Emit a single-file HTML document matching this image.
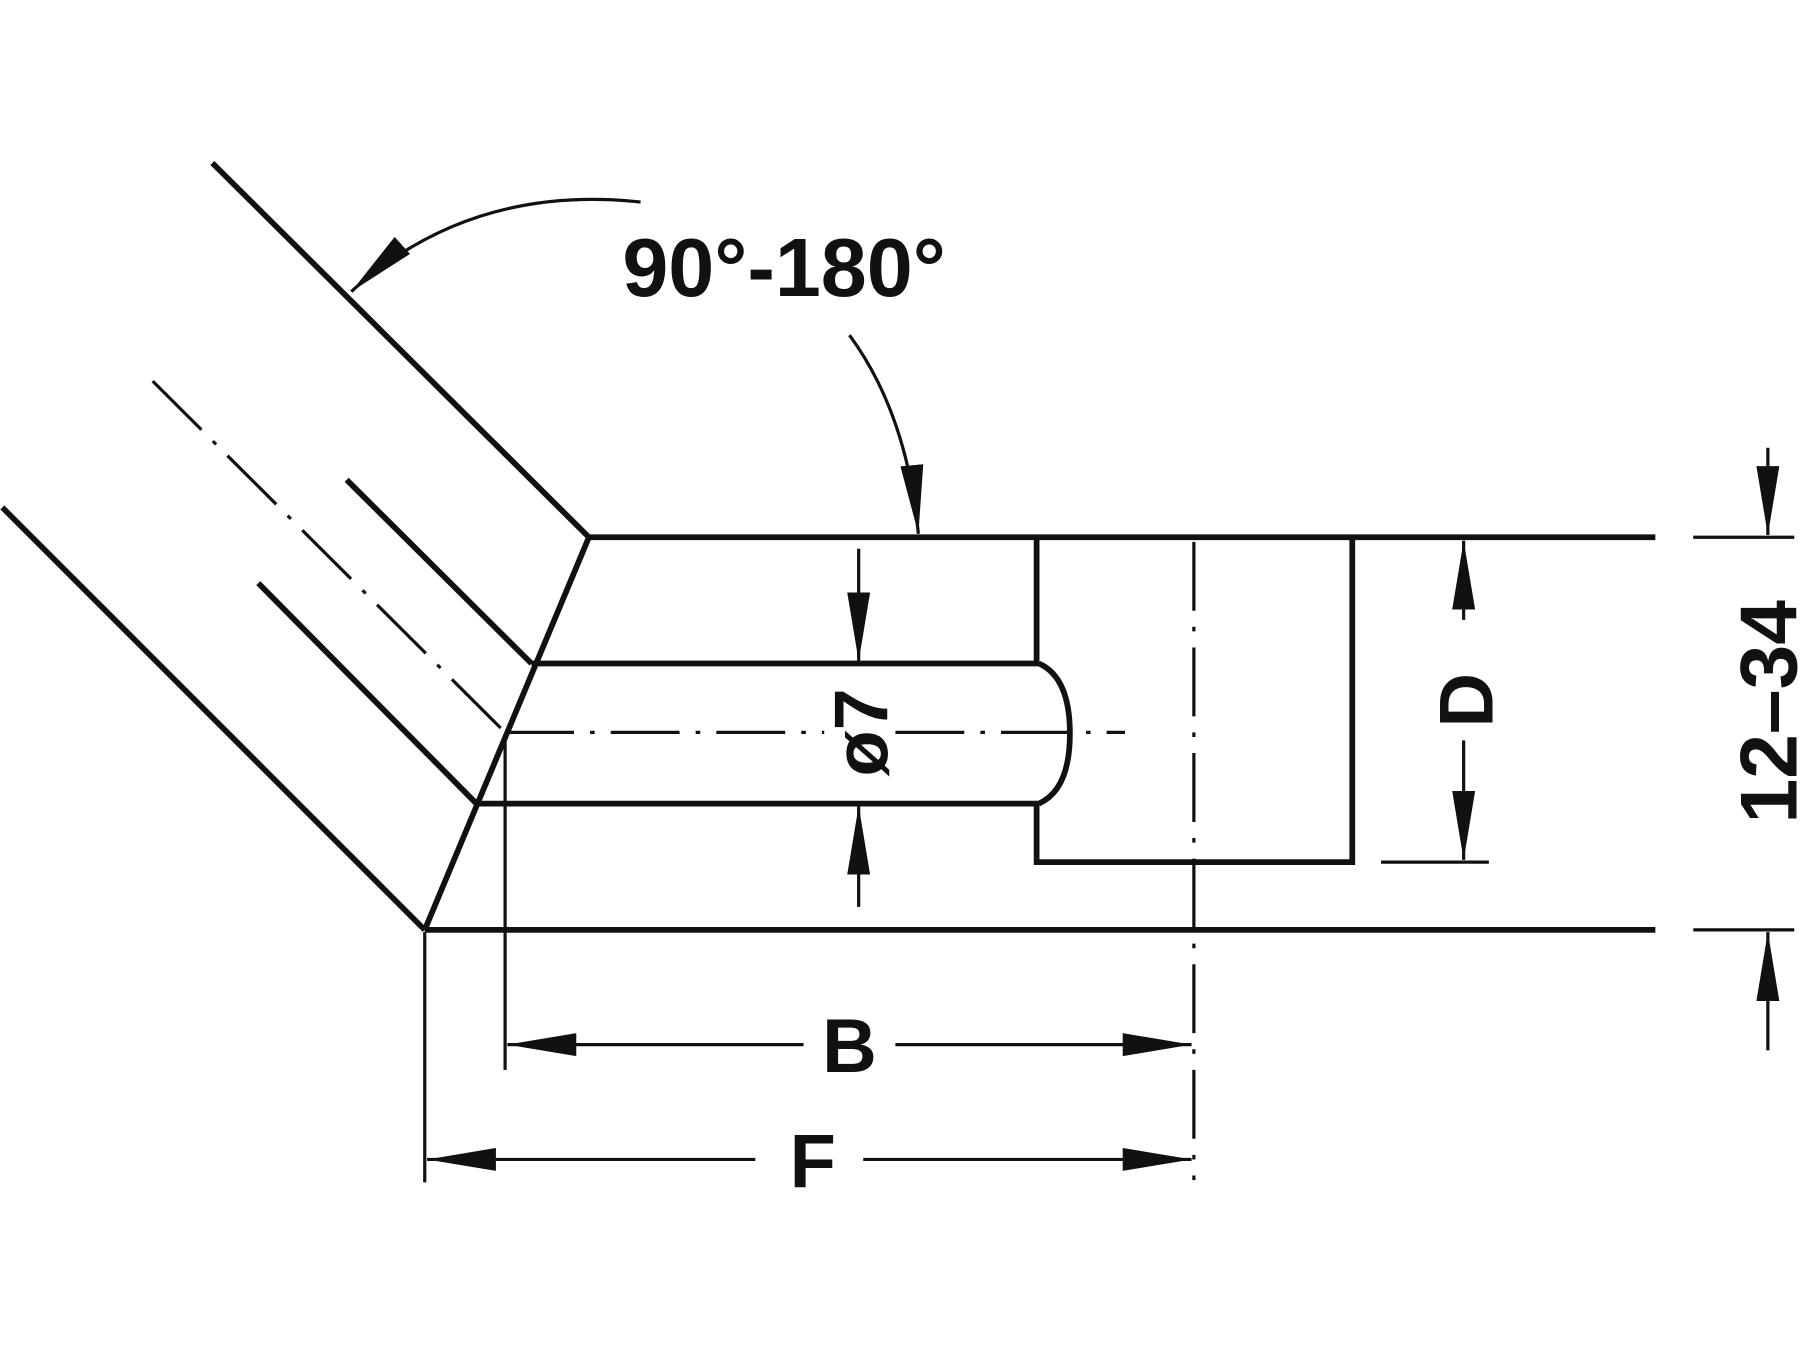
<!DOCTYPE html>
<html><head><meta charset="utf-8"><style>html,body{margin:0;padding:0;background:#fff}svg{display:block}</style></head>
<body>
<svg width="1800" height="1350" viewBox="0 0 1568 1176" preserveAspectRatio="none" xmlns="http://www.w3.org/2000/svg">
<defs>
<marker id="a" viewBox="0 0 60 20" refX="60" refY="10" markerWidth="60" markerHeight="20" markerUnits="userSpaceOnUse" orient="auto"><path d="M0,0 L60,10 L0,20 Z" fill="#111"/></marker>
</defs>
<g stroke="#111" fill="none" stroke-linecap="butt">
<g stroke-width="5">
<line x1="185" y1="142" x2="513" y2="468"/>
<line x1="513" y1="468" x2="1442" y2="468"/>
<line x1="513" y1="468" x2="370" y2="810"/>
<line x1="370" y1="810" x2="1442" y2="810"/>
<line x1="2" y1="442" x2="370" y2="810"/>
<line x1="302" y1="418" x2="463" y2="578"/>
<line x1="225" y1="508" x2="415" y2="700"/>
<line x1="463" y1="578" x2="905" y2="578"/>
<line x1="415" y1="700" x2="905" y2="700"/>
<path d="M905,578 Q932,590 932,639 Q932,688 905,700"/>
<polyline points="903,468 903,578"/>
<polyline points="903,700 903,751 1178,751 1178,468"/>
</g>
<g stroke-width="2.8">
<line x1="133" y1="332" x2="440" y2="638" stroke-dasharray="60,14,4,14"/>
<line x1="440" y1="638" x2="718" y2="638" stroke-dasharray="60,14,4,14"/>
<line x1="780" y1="638" x2="980" y2="638" stroke-dasharray="60,14,4,14"/>
<line x1="1040" y1="472" x2="1040" y2="1028" stroke-dasharray="60,14,4,14"/>
<line x1="440" y1="640" x2="440" y2="932"/>
<line x1="370" y1="812" x2="370" y2="1030"/>
<line x1="1203" y1="751" x2="1297" y2="751"/>
<line x1="1475" y1="468" x2="1563" y2="468"/>
<line x1="1475" y1="810" x2="1563" y2="810"/>
<line x1="1275" y1="540" x2="1275" y2="471" marker-end="url(#a)"/>
<line x1="1275" y1="645" x2="1275" y2="749" marker-end="url(#a)"/>
<line x1="1540" y1="390" x2="1540" y2="466" marker-end="url(#a)"/>
<line x1="1540" y1="915" x2="1540" y2="812" marker-end="url(#a)"/>
<line x1="748" y1="478" x2="748" y2="576" marker-end="url(#a)"/>
<line x1="748" y1="790" x2="748" y2="702" marker-end="url(#a)"/>
<line x1="700" y1="910" x2="442" y2="910" marker-end="url(#a)"/>
<line x1="780" y1="910" x2="1038" y2="910" marker-end="url(#a)"/>
<line x1="658" y1="1010" x2="372" y2="1010" marker-end="url(#a)"/>
<line x1="752" y1="1010" x2="1038" y2="1010" marker-end="url(#a)"/>
<path d="M558,176 Q410,160 306,254" marker-end="url(#a)"/>
<path d="M740,292 Q790,360 800,465" marker-end="url(#a)"/>
</g>
</g>
<g font-family="Liberation Sans, Arial, sans-serif" font-weight="bold" fill="#111">
<text x="683" y="258" font-size="72" text-anchor="middle">90°-180°</text>
<text x="740" y="934" font-size="66" text-anchor="middle">B</text>
<text x="708" y="1034" font-size="66" text-anchor="middle">F</text>
<text transform="translate(1300,610) rotate(-90)" font-size="66" text-anchor="middle">D</text>
<text transform="translate(1565,620) rotate(-90)" font-size="70" text-anchor="middle">12–34</text>
<text transform="translate(773,638) rotate(-90)" font-size="66" text-anchor="middle">ø7</text>
</g>
</svg>
</body></html>
